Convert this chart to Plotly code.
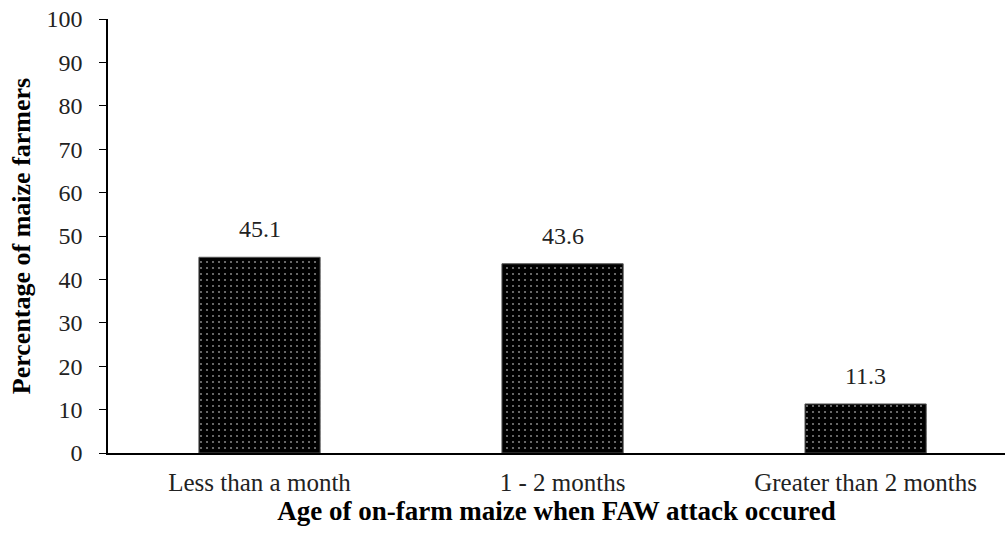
import plotly.graph_objects as go

categories = ["Less than a month", "1 - 2 months", "Greater than 2 months"]
values = [45.1, 43.6, 11.3]
value_labels = ["45.1", "43.6", "11.3"]
y_ticks = [0, 10, 20, 30, 40, 50, 60, 70, 80, 90, 100]

FONT = "Liberation Serif, Times New Roman, serif"

fig = go.Figure()
fig.add_trace(go.Bar(
    x=categories,
    y=values,
    width=0.40,
    marker=dict(
        color="black",
        line=dict(color="#555", width=1),
        pattern=dict(shape=".", fgcolor="white", bgcolor="black", size=6, solidity=0.1, fillmode="overlay"),
    ),
    showlegend=False,
    hoverinfo="skip",
))

for c, v, t in zip(categories, values, value_labels):
    fig.add_annotation(x=c, y=v, text=t, showarrow=False, yanchor="bottom", yshift=13,
                       font=dict(family=FONT, size=24, color="#222"))

fig.update_layout(
    width=1005, height=539,
    margin=dict(l=108, r=0, t=19, b=86),
    paper_bgcolor="white", plot_bgcolor="white",
    font=dict(family=FONT, size=24, color="#222"),
)
fig.update_xaxes(
    range=[-0.5, 2.46], automargin=False,
    showline=True, linecolor="black", linewidth=1.5,
    ticks="", showgrid=False, zeroline=False,
    tickfont=dict(family=FONT, size=25, color="#222"),
    ticklabelstandoff=6,
    title=dict(text="<b>Age of on-farm maize when FAW attack occured</b>", standoff=0,
               font=dict(family=FONT, size=27, color="black")),
)
fig.update_yaxes(
    range=[0, 100], tickvals=y_ticks, automargin=False,
    showline=True, linecolor="black", linewidth=1.5,
    ticks="outside", ticklen=7, tickcolor="black", tickwidth=1.2,
    showgrid=False, zeroline=False,
    tickfont=dict(family=FONT, size=24, color="#222"),
    ticklabelstandoff=12,
    title=dict(text="<b>Percentage of maize farmers</b>", standoff=8,
               font=dict(family=FONT, size=26, color="black")),
)

fig.write_html("out.html", config={"displayModeBar": False},
               post_script="document.body.style.margin='0';")
